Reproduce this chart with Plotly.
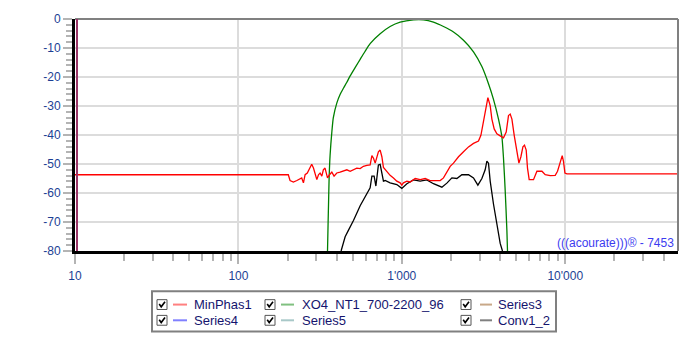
import math
import plotly.graph_objects as go

# ---- measured responses (frequency in Hz, level in dB) ----
minphas_f = [10, 202, 207, 217, 228, 239, 244, 250, 256, 264, 272, 281, 288, 295, 302,
             309, 316, 324, 331, 339, 344, 351, 361, 373, 385, 400, 419, 439, 461, 483,
             506, 530, 556, 582, 611, 640, 656, 671, 687, 704, 719, 737, 755, 772, 810,
             848, 889, 932, 977, 1000, 1023, 1074, 1125, 1207, 1295, 1390, 1491, 1600,
             1717, 1799, 1887, 1977, 2071, 2223, 2385, 2559, 2746, 2946, 3048, 3161,
             3283, 3364, 3474, 3558, 3675, 3818, 4000, 4191, 4354, 4497, 4606, 4718,
             4874, 5062, 5207, 5356, 5509, 5634, 5771, 5877, 6019, 6397, 6712, 7203,
             7545, 8094, 8686, 8973, 9320, 9587, 9764, 9959, 10241, 49000]
minphas_db = [-53.7, -53.7, -55.7, -56.2, -55.7, -55.0, -54.8, -56.5, -53.7, -53.1, -51.6,
              -50.1, -51.4, -53.7, -55.4, -53.7, -53.1, -54.2, -52.0, -51.4, -53.1, -54.8,
              -53.7, -52.8, -54.2, -53.1, -52.8, -52.3, -52.0, -52.5, -52.0, -51.4, -51.6,
              -50.8, -50.5, -50.3, -47.1, -48.0, -49.7, -47.8, -45.8, -45.2, -47.5, -51.2,
              -52.8, -53.9, -54.8, -55.9, -56.5, -57.3, -56.5, -55.9, -56.2, -55.0, -55.4,
              -55.0, -55.7, -55.7, -55.7, -54.8, -52.8, -50.8, -49.7, -47.5, -45.8, -44.1,
              -42.9, -42.1, -40.1, -35.6, -29.9, -27.1, -29.9, -34.5, -37.9, -39.6, -40.3,
              -41.0, -39.0, -33.3, -32.8, -34.5, -40.1, -45.8, -49.7, -47.5, -44.1, -43.5,
              -45.2, -51.4, -55.4, -55.4, -52.5, -52.5, -53.7, -54.0, -53.9, -52.5, -49.2,
              -47.1, -49.2, -53.1, -53.4, -53.4]

xo4_f = [351, 354, 356, 359, 364, 373, 381, 400, 419, 440, 461, 483, 520, 556, 595, 640,
         737, 848, 977, 1178, 1357, 1562, 1799, 2071, 2385, 2746, 3090, 3392, 3639, 3906,
         4098, 4191, 4293, 4396, 4434]
xo4_db = [-80.0, -70.0, -64.0, -55.0, -47.0, -39.0, -34.0, -29.0, -26.0, -23.8, -21.8,
          -19.6, -16.6, -13.9, -11.2, -8.5, -5.1, -2.6, -1.1, -0.3, -0.3, -1.1, -2.6, -4.5,
          -7.3, -11.3, -16.4, -22.3, -27.7, -34.5, -40.7, -48.0, -59.3, -72.9, -80.0]

conv_f = [425, 450, 471, 506, 556, 611, 640, 656, 677, 694, 704, 719, 737, 755, 772, 791,
          848, 932, 1000, 1074, 1178, 1295, 1423, 1562, 1759, 1887, 2025, 2172, 2331, 2559,
          2746, 2921, 3090, 3237, 3316, 3392, 3474, 3639, 3818, 4000, 4131]
conv_db = [-80.0, -75.1, -72.9, -69.5, -64.4, -59.9, -58.2, -54.2, -54.2, -57.6, -54.2,
           -50.3, -50.1, -53.5, -55.9, -55.7, -56.5, -57.1, -58.4, -56.8, -55.5, -55.9,
           -55.5, -56.8, -58.0, -56.6, -54.8, -55.0, -53.7, -53.7, -54.8, -57.3, -55.0,
           -52.0, -49.0, -49.7, -55.9, -63.8, -70.6, -77.4, -80.0]

# ---- axes ----
x_tickvals = [10, 100, 1000, 10000]
x_ticktext = ["10", "100", "1'000", "10'000"]
y_tickvals = [0, -10, -20, -30, -40, -50, -60, -70, -80]
y_ticktext = ["0", "-10", "-20", "-30", "-40", "-50", "-60", "-70", "-80"]
x_min, x_max = 10, 49000
y_min, y_max = -80, 0

# ---- legend entries (row by row) ----
legend_names = ["MinPhas1", "XO4_NT1_700-2200_96", "Series3",
                "Series4", "Series5", "Conv1_2"]
legend_colors = ["#ff8080", "#80c080", "#c8a888",
                 "#8080ff", "#a8c8c8", "#808080"]

W, H = 700, 350
L, R, T, B = 75, 22, 15, 99
PW, PH = W - L - R, H - T - B


def px(x):
    return (x - L) / PW


def py(y):
    return (H - B - y) / PH


fig = go.Figure()
fig.add_trace(go.Scatter(x=xo4_f, y=xo4_db, mode="lines", line_shape="spline",
                         line=dict(color="#008000", width=1.3, smoothing=0.6),
                         name=legend_names[1]))
fig.add_trace(go.Scatter(x=conv_f, y=conv_db, mode="lines",
                         line=dict(color="#000000", width=1.3), name=legend_names[5]))
fig.add_trace(go.Scatter(x=minphas_f, y=minphas_db, mode="lines",
                         line=dict(color="#ff0000", width=1.3), name=legend_names[0]))

minor_x = [k * 10 ** d for d in range(1, 5) for k in range(2, 10) if k * 10 ** d < x_max]

tick_font = dict(family="Liberation Sans, Arial, sans-serif", size=12, color="#1c3f94")

fig.update_xaxes(type="log", range=[math.log10(x_min), math.log10(x_max)],
                 tickvals=x_tickvals, ticktext=x_ticktext, tickfont=tick_font,
                 ticks="outside", ticklen=10, tickwidth=2, tickcolor="#b4b4b4",
                 showgrid=True, gridcolor="#dcdcdc", gridwidth=2,
                 showline=True, linecolor="#000000", linewidth=3,
                 ticklabelstandoff=2, zeroline=False,
                 minor=dict(tickvals=minor_x, ticks="outside", ticklen=7,
                            tickwidth=2, tickcolor="#b4b4b4", showgrid=False))
fig.update_yaxes(range=[y_min, y_max], tickvals=y_tickvals, ticktext=y_ticktext,
                 tickfont=tick_font,
                 ticks="outside", ticklen=9, tickwidth=2, tickcolor="#b4b4b4",
                 showgrid=True, gridcolor="#dcdcdc", gridwidth=2,
                 showline=True, linecolor="#000000", linewidth=3, zeroline=False,
                 minor=dict(dtick=2, ticks="outside", ticklen=6, tickwidth=2,
                            tickcolor="#b4b4b4", showgrid=False))

shapes = [
    # top and right frame
    dict(type="line", xref="paper", yref="paper", x0=0, x1=1, y0=1, y1=1,
         line=dict(color="#808080", width=2), layer="above"),
    dict(type="line", xref="paper", yref="paper", x0=1, x1=1, y0=0, y1=1,
         line=dict(color="#808080", width=2), layer="above"),
    # low-frequency edge trace
    dict(type="line", xref="paper", yref="paper", x0=px(77), x1=px(77), y0=0, y1=1,
         line=dict(color="#993366", width=2), layer="above"),
    # legend box
    dict(type="rect", xref="paper", yref="paper", x0=px(152), x1=px(556),
         y0=py(333), y1=py(292), line=dict(color="#808080", width=2),
         fillcolor="#ffffff"),
]

annotations = [
    dict(text="(((acourate)))® - 7453", xref="paper", yref="paper",
         x=px(676), y=py(243), xanchor="right", yanchor="middle", showarrow=False,
         font=dict(family="Liberation Sans, Arial, sans-serif", size=12, color="#3c3cf0")),
]

col_box = [157, 265, 461]
col_line = [(173, 187), (281, 294), (480, 492)]
col_text = [192, 300, 496]
row_y = [305.5, 321.5]
for i, (name, color) in enumerate(zip(legend_names, legend_colors)):
    r, c = divmod(i, 3)
    yc = row_y[r]
    bx = col_box[c]
    shapes.append(dict(type="rect", xref="paper", yref="paper",
                       x0=px(bx), x1=px(bx + 10), y0=py(yc + 5), y1=py(yc - 5),
                       line=dict(color="#555555", width=1), fillcolor="#ffffff"))
    shapes.append(dict(type="path", xref="paper", yref="paper",
                       path=f"M {px(bx + 2.2)} {py(yc - 0.5)} L {px(bx + 4.2)} {py(yc + 2.3)} "
                            f"L {px(bx + 8)} {py(yc - 2.8)}",
                       line=dict(color="#000000", width=1.6)))
    shapes.append(dict(type="line", xref="paper", yref="paper",
                       x0=px(col_line[c][0]), x1=px(col_line[c][1]), y0=py(yc), y1=py(yc),
                       line=dict(color=color, width=2)))
    annotations.append(dict(text=name, xref="paper", yref="paper", x=px(col_text[c]),
                            y=py(yc), xanchor="left", yanchor="middle", showarrow=False,
                            font=dict(family="Liberation Sans, Arial, sans-serif",
                                      size=13, color="#14146e")))

fig.update_layout(width=W, height=H, margin=dict(l=L, r=R, t=T, b=B),
                  paper_bgcolor="#ffffff", plot_bgcolor="#ffffff",
                  showlegend=False, shapes=shapes, annotations=annotations)

fig.write_html("out.html")
